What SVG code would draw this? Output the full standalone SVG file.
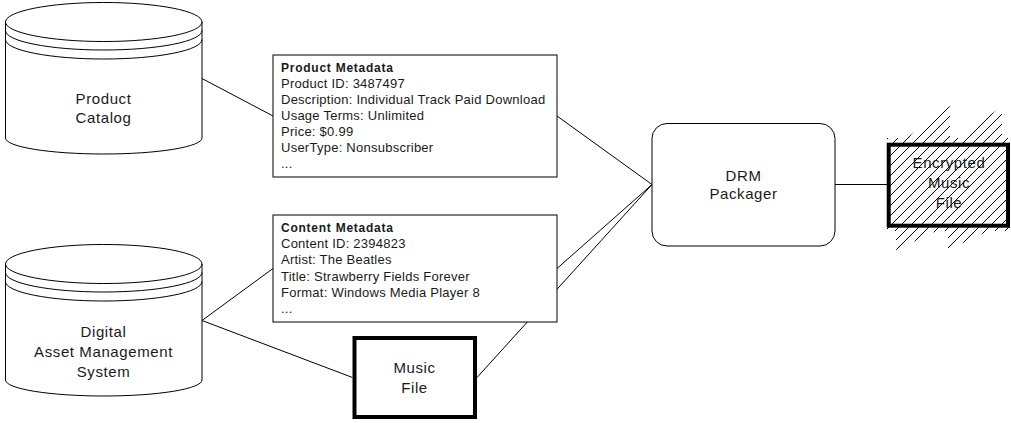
<svg xmlns="http://www.w3.org/2000/svg" width="1011" height="423" viewBox="0 0 1011 423">
<style>
.ln{stroke:#000;stroke-width:1;fill:none}
.shape{stroke:#000;stroke-width:1;fill:#fff}
.thick{stroke:#000;stroke-width:4;fill:#fff}
.lbl{font-family:"Liberation Sans",Arial,sans-serif;font-size:15px;letter-spacing:0.6px;fill:#1a1a1a;text-anchor:middle}
.meta{font-family:"Liberation Sans",Arial,sans-serif;font-size:13px;letter-spacing:0.25px;fill:#1a1a1a}
.ttl{font-family:"Liberation Sans",Arial,sans-serif;font-size:12px;font-weight:bold;letter-spacing:0.75px;fill:#1a1a1a}
</style>
<defs>
<pattern id="hatch" patternUnits="userSpaceOnUse" x="6" y="0" width="10" height="10">
<path d="M0,10 L10,0 M-2,2 L2,-2 M8,12 L12,8" stroke="#000" stroke-width="1" shape-rendering="crispEdges"/>
</pattern>
</defs>
<g id="connectors" class="ln">
<line x1="202" y1="78.5" x2="273" y2="116"/>
<line x1="202" y1="320.5" x2="273" y2="268.5"/>
<line x1="202" y1="320.5" x2="352.5" y2="377.5"/>
<line x1="557" y1="116" x2="652" y2="184.5"/>
<line x1="557" y1="268.5" x2="652" y2="184.5"/>
<line x1="477" y1="377.5" x2="652" y2="184.5"/>
<line x1="835" y1="184.5" x2="887" y2="184.5"/>
</g>
<g id="product-catalog">
<path class="shape" d="M5.5,22 A98.25,19.5 0 0 1 202,22 V138 A98.25,16 0 0 1 5.5,138 Z"/>
<path class="ln" d="M5.5,22 A98.25,19.5 0 0 0 202,22 M5.5,30.5 A98.25,19.5 0 0 0 202,30.5 M5.5,39.5 A98.25,19.5 0 0 0 202,39.5"/>
<text class="lbl" x="103.5" y="103.5">Product</text>
<text class="lbl" x="103.5" y="123">Catalog</text>
</g>
<g id="dam-system">
<path class="shape" d="M5.5,264 A98.25,19.5 0 0 1 202,264 V380 A98.25,16 0 0 1 5.5,380 Z"/>
<path class="ln" d="M5.5,264 A98.25,19.5 0 0 0 202,264 M5.5,272.5 A98.25,19.5 0 0 0 202,272.5 M5.5,281.5 A98.25,19.5 0 0 0 202,281.5"/>
<text class="lbl" x="103.5" y="337">Digital</text>
<text class="lbl" x="103.5" y="357">Asset Management</text>
<text class="lbl" x="103.5" y="377">System</text>
</g>
<g id="product-metadata">
<rect class="shape" x="273" y="55" width="284" height="122"/>
<text class="ttl" x="281" y="72">Product Metadata</text>
<text class="meta" x="281" y="88">Product ID: 3487497</text>
<text class="meta" x="281" y="104">Description: Individual Track Paid Download</text>
<text class="meta" x="281" y="120">Usage Terms: Unlimited</text>
<text class="meta" x="281" y="136">Price: $0.99</text>
<text class="meta" x="281" y="152">UserType: Nonsubscriber</text>
<text class="meta" x="281" y="167.5">...</text>
</g>
<g id="content-metadata">
<rect class="shape" x="273" y="215" width="284" height="107"/>
<text class="ttl" x="281" y="232">Content Metadata</text>
<text class="meta" x="281" y="248">Content ID: 2394823</text>
<text class="meta" x="281" y="264">Artist: The Beatles</text>
<text class="meta" x="281" y="280.5">Title: Strawberry Fields Forever</text>
<text class="meta" x="281" y="296.5">Format: Windows Media Player 8</text>
<text class="meta" x="281" y="312.5">...</text>
</g>
<g id="music-file">
<rect class="thick" x="354.5" y="338" width="120.5" height="79"/>
<text class="lbl" x="414.5" y="373">Music</text>
<text class="lbl" x="414.5" y="393">File</text>
</g>
<g id="drm-packager">
<rect class="shape" x="652" y="123.5" width="183" height="122.5" rx="15" ry="15"/>
<text class="lbl" x="743.5" y="180.5">DRM</text>
<text class="lbl" x="743.5" y="199">Packager</text>
</g>
<g id="encrypted-music-file">
<rect x="888.7" y="144.7" width="119.3" height="81" fill="#fff"/>
<text class="lbl" x="949" y="168" fill="#333">Encrypted</text>
<text class="lbl" x="949" y="188" fill="#333">Music</text>
<text class="lbl" x="949" y="208" fill="#333">File</text>
<path fill="url(#hatch)" d="M887,138 H1010 V231 H887 Z M900,143 L950,106 L950,143 Z M953,143 L1002,106 L1002,143 Z M896,227 L945,227 L896,250 Z M948,227 L997,227 L948,250 Z"/>
<rect x="888.7" y="144.7" width="119.3" height="81" fill="none" stroke="#000" stroke-width="4"/>
</g>
</svg>
